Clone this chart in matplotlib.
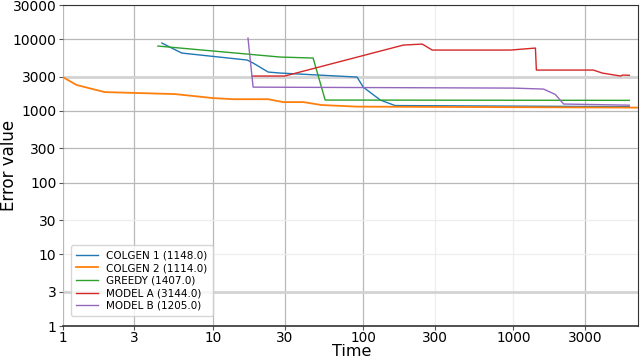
import matplotlib
matplotlib.use("Agg")
import matplotlib.pyplot as plt

# =========================
# DATA
# =========================

colgen1_t = [4.57, 6.2, 16.9, 18.5, 23.3, 28.0, 91.0, 100.0, 130.0, 163.0, 5900.0]
colgen1_v = [8850, 6420, 5130, 4660, 3490, 3380, 2970, 2150, 1420, 1190, 1148]

colgen2_t = [1.0, 1.24, 1.9, 5.6, 10.0, 13.6, 23.3, 29.3, 40.0, 53.0, 91.0, 7000.0]
colgen2_v = [2970, 2300, 1835, 1720, 1513, 1460, 1460, 1330, 1330, 1210, 1150, 1114]

greedy_t = [4.3, 28.0, 46.4, 55.8, 5900.0]
greedy_v = [8040, 5650, 5470, 1420, 1407]

model_a_t = [18.2, 30.0, 185.0, 247.0, 288.0, 955.0, 1400.0, 1420.0, 3400.0, 3900.0, 5170.0, 5330.0, 5900.0]
model_a_v = [3070, 3070, 8300, 8570, 7070, 7070, 7540, 3720, 3720, 3380, 3070, 3170, 3144]

model_b_t = [17.1, 18.5, 1000.0, 1585.0, 1900.0, 2154.0, 5900.0]
model_b_v = [10390, 2150, 2085, 2020, 1700, 1250, 1205]

series = [
    ("COLGEN 1 (1148.0)", colgen1_t, colgen1_v, "#1f77b4", 1.0),
    ("COLGEN 2 (1114.0)", colgen2_t, colgen2_v, "#ff7f0e", 1.3),
    ("GREEDY (1407.0)", greedy_t, greedy_v, "#2ca02c", 1.0),
    ("MODEL A (3144.0)", model_a_t, model_a_v, "#d62728", 1.0),
    ("MODEL B (1205.0)", model_b_t, model_b_v, "#9467bd", 1.0),
]

x_ticks = [1, 3, 10, 30, 100, 300, 1000, 3000]
y_ticks = [1, 3, 10, 30, 100, 300, 1000, 3000, 10000, 30000]


def main():
    fig = plt.figure(figsize=(6.4, 3.6), dpi=100)
    ax = fig.add_axes([0.098, 0.094, 0.899, 0.892])

    for label, t, v, color, lw in series:
        ax.plot(t, v, color=color, lw=lw, label=label)

    ax.set_xscale("log")
    ax.set_yscale("log")
    ax.set_xlim(1, 6750)
    ax.set_ylim(1, 30000)

    ax.set_xticks(x_ticks)
    ax.set_xticklabels([str(x) for x in x_ticks])
    ax.set_yticks(y_ticks)
    ax.set_yticklabels([str(y) for y in y_ticks])
    ax.minorticks_off()
    ax.tick_params(labelsize=10, length=3, pad=1.5, color="#555555")
    ax.tick_params(axis="x", pad=0.3, labelsize=9.8)

    # grid lines, a few of them lighter/thicker like in the reference
    ax.grid(True, color="#b8b8b8", lw=0.9)
    ax.set_axisbelow(True)
    for tick, line in zip(x_ticks, ax.xaxis.get_gridlines()):
        if tick in (300, 1000):
            line.set_color("#eeeeee")
    for tick, line in zip(y_ticks, ax.yaxis.get_gridlines()):
        if tick in (3, 3000):
            line.set_color("#d3d3d3")
            line.set_linewidth(2.0)
        elif tick in (10, 30):
            line.set_color("#eeeeee")

    for side in ("top", "right", "bottom"):
        ax.spines[side].set_color("#333333")
    ax.spines["bottom"].set_linewidth(1.2)
    ax.spines["left"].set_visible(False)

    ax.set_xlabel("Time", fontsize=11.5)
    ax.set_ylabel("Error value", fontsize=12)
    ax.xaxis.set_label_coords(0.503, -0.054)
    ax.yaxis.set_label_coords(-0.077, 0.5)

    ax.legend(
        loc="lower left",
        fontsize=7.5,
        handlelength=2.1,
        labelspacing=0.25,
        borderpad=0.5,
        bbox_to_anchor=(0.005, 0.015),
        frameon=True,
    )

    fig.savefig("out.png", dpi=100)


if __name__ == "__main__":
    main()
